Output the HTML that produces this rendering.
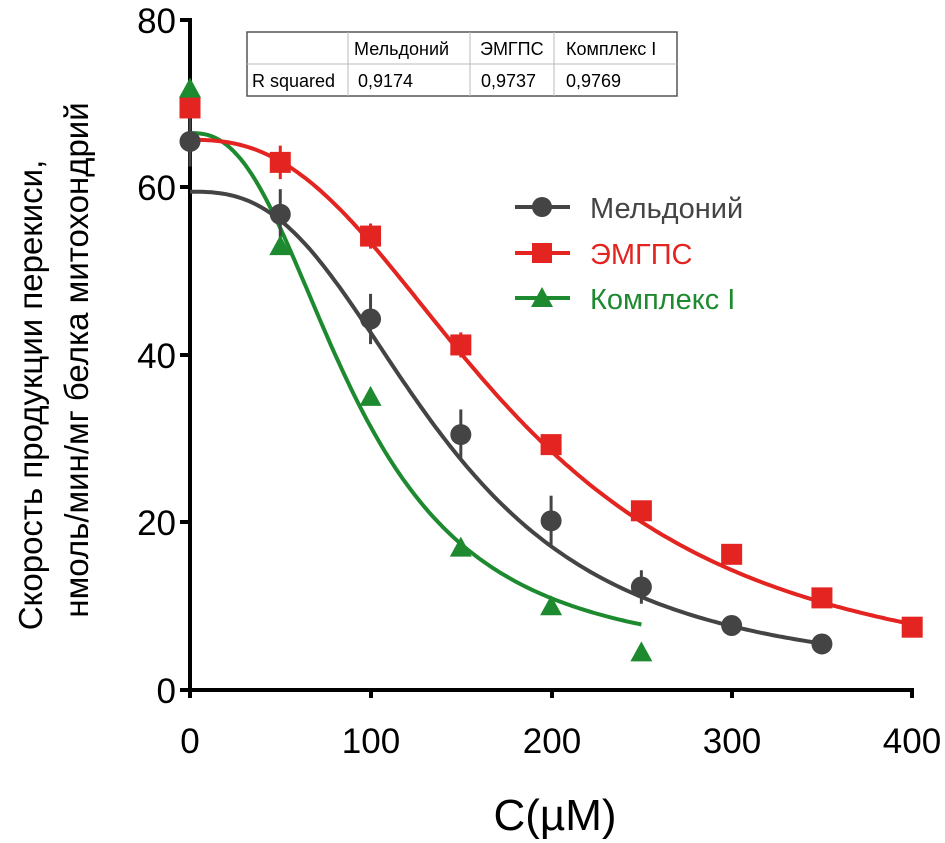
<!DOCTYPE html>
<html><head><meta charset="utf-8"><style>
body{margin:0;background:#fff}
svg{display:block;font-family:"Liberation Sans","DejaVu Sans",sans-serif}
</style></head><body>
<svg id="s" width="945" height="843" viewBox="0 0 945 843">
<g font-size="35" fill="#000">
<text x="176" y="33" text-anchor="end">80</text>
<text x="176" y="200" text-anchor="end">60</text>
<text x="176" y="368" text-anchor="end">40</text>
<text x="176" y="535" text-anchor="end">20</text>
<text x="176" y="703" text-anchor="end">0</text>
<text x="190" y="753" text-anchor="middle">0</text>
<text x="371" y="753" text-anchor="middle">100</text>
<text x="552" y="753" text-anchor="middle">200</text>
<text x="732" y="753" text-anchor="middle">300</text>
<text x="912" y="753" text-anchor="middle">400</text>
</g>
<text x="555" y="830" font-size="44" text-anchor="middle">C(µM)</text>
<g font-size="33" text-anchor="middle">
<text transform="translate(42,395) rotate(-90)">Скорость продукции перекиси,</text>
<text transform="translate(88,360) rotate(-90)">нмоль/мин/мг белка митохондрий</text>
</g>
<g stroke="#000" stroke-width="4" fill="none">
<path d="M190,20V698M180,20H192M180,187H192M180,355H192M180,522H192M180,690H192M188,690H914M371,690V698M552,690V698M732,690V698M912,690V698"/>
</g>
<g id="c"></g>
<g font-size="29">
<line x1="515" y1="207" x2="570" y2="207" stroke="#444" stroke-width="4"/><circle cx="542" cy="207" r="10" fill="#444"/>
<text x="590" y="218" fill="#444">Мельдоний</text>
<line x1="515" y1="253" x2="570" y2="253" stroke="#e32420" stroke-width="4"/><rect x="532" y="243" width="20" height="20" fill="#e32420"/>
<text x="590" y="264" fill="#e32420">ЭМГПС</text>
<line x1="515" y1="298" x2="570" y2="298" stroke="#1e8a30" stroke-width="4"/><path d="M542,287L553,307H531Z" fill="#1e8a30"/>
<text x="590" y="309" fill="#1e8a30">Комплекс I</text>
</g>
<g font-size="18">
<rect x="247" y="32" width="430" height="64" fill="#fff" stroke="#555" stroke-width="1.5"/>
<path d="M247,64H677M348,32V96M470,32V96M554,32V96" stroke="#bbb" stroke-width="1"/>
<text x="354" y="55">Мельдоний</text><text x="480" y="55">ЭМГПС</text><text x="566" y="55">Комплекс I</text>
<text x="252" y="87">R squared</text><text x="358" y="87">0,9174</text><text x="481" y="87">0,9737</text><text x="566" y="87">0,9769</text>
</g>
</svg>
<script>
var X=function(v){return 190+v*1.8055},Y=function(v){return 690-v*8.375};
var g=document.getElementById('c'),h='';
function curve(T,B,EC,n,x1,col){var d='';for(var x=0;x<=x1;x+=2){var y=B+(T-B)/(1+Math.pow(x/EC,n));d+=(x?'L':'M')+X(x).toFixed(1)+','+Y(y).toFixed(1);}
h+='<path d="'+d+'" stroke="'+col+'" stroke-width="4" fill="none"/>';}
curve(66.5,3,92,2.5,250,'#1e8a30');
curve(65.7,0,180,2.5,400,'#e32420');
curve(59.5,1,140,2.7,350,'#444');
function eb(pts,col){pts.forEach(function(p){if(p[2])h+='<line x1="'+X(p[0])+'" x2="'+X(p[0])+'" y1="'+Y(p[1]+p[2])+'" y2="'+Y(p[1]-p[2])+'" stroke="'+col+'" stroke-width="3"/>';});}
var mel=[[0,65.5,3],[50,56.8,3],[100,44.3,3],[150,30.5,3],[200,20.2,3],[250,12.3,2],[300,7.7,0],[350,5.5,0]];
var red=[[0,69.5,0],[50,63,2],[100,54.2,1.5],[150,41.2,1.5],[200,29.3,0],[250,21.4,0],[300,16.2,0],[350,11,0],[400,7.5,0]];
var grn=[[0,71.8,0],[50,53,0],[100,35,0],[150,17,0],[200,10,0],[250,4.5,0]];
eb(mel,'#444');eb(red,'#e32420');
mel.forEach(function(p){h+='<circle cx="'+X(p[0])+'" cy="'+Y(p[1])+'" r="10.5" fill="#444"/>';});
red.forEach(function(p){h+='<rect x="'+(X(p[0])-10.5)+'" y="'+(Y(p[1])-10.5)+'" width="21" height="21" fill="#e32420"/>';});
grn.forEach(function(p){var x=X(p[0]),y=Y(p[1]);h+='<path d="M'+x+','+(y-11)+'L'+(x+11)+','+(y+9)+'H'+(x-11)+'Z" fill="#1e8a30"/>';});
g.innerHTML=h;
</script>
</body></html>
